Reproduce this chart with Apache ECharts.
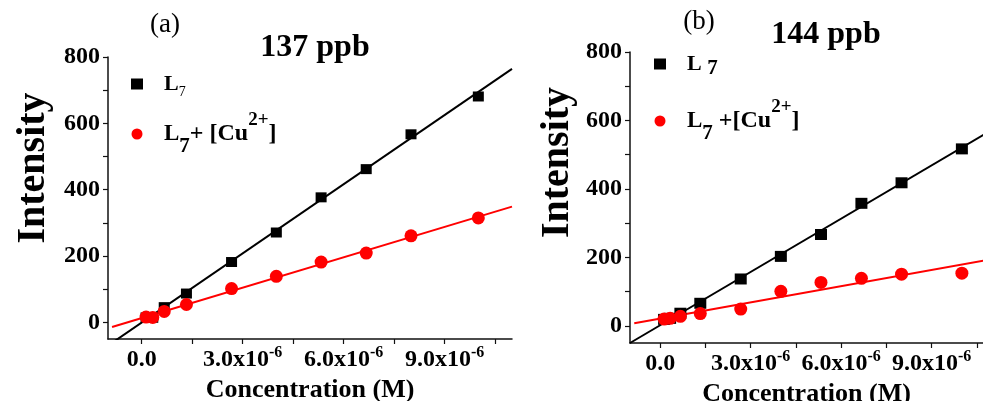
<!DOCTYPE html>
<html>
<head>
<meta charset="utf-8">
<script src="https://cdn.jsdelivr.net/npm/echarts@6/dist/echarts.min.js"></script>
<style>
html, body { margin: 0; padding: 0; background: #fff; }
#chart { width: 983px; height: 401px; }
</style>
</head>
<body>
<div id="chart"></div>
<script>
// concentration (M)
var concA = [0.13e-6, 0.33e-6, 0.67e-6, 1.33e-6, 2.67e-6, 4.0e-6, 5.33e-6, 6.67e-6, 8.0e-6, 10.0e-6];
var concB = [0.13e-6, 0.33e-6, 0.67e-6, 1.33e-6, 2.67e-6, 4.0e-6, 5.33e-6, 6.67e-6, 8.0e-6, 10.0e-6];
// intensity, panel (a) 137 ppb
var l7A   = [15, 14, 46, 87, 182, 271, 377, 462, 567, 681];
var l7CuA = [16, 15, 33, 54, 102, 139, 182, 209, 261, 315];
// intensity, panel (b) 144 ppb
var l7B   = [19, 22, 37, 66, 137, 203, 267, 358, 418, 517];
var l7CuB = [20, 22, 28, 36, 49, 101, 127, 139, 151, 154];
// fitted lines (end points)
var fitL7A   = [[-1.0e-6, -70], [11.0e-6, 764]];
var fitL7CuA = [[-0.88e-6, -14], [11.0e-6, 349]];
var fitL7B   = [[-1.0e-6, -50], [11.0e-6, 573]];
var fitL7CuB = [[-0.86e-6, 8], [11.0e-6, 195]];
// axis ticks / labels
var xTicks = [0, 1.5e-6, 3e-6, 4.5e-6, 6e-6, 7.5e-6, 9e-6, 10.5e-6];
var xLabelValues = [0, 3e-6, 6e-6, 9e-6];
var xLabelBase = ['0.0', '3.0x10', '6.0x10', '9.0x10'];
var xLabelExp = ['', '-6', '-6', '-6'];
var yTicks = [0, 100, 200, 300, 400, 500, 600, 700, 800];
var yLabels = [0, 200, 400, 600, 800];

var FONT = "'Liberation Serif', 'Times New Roman', serif";
var chart = echarts.init(document.getElementById('chart'));

function pairs(xs, ys) {
    var out = [];
    for (var i = 0; i < xs.length; i++) out.push([xs[i], ys[i]]);
    return out;
}

function xFormatter(v) {
    for (var i = 0; i < xLabelValues.length; i++) {
        if (Math.abs(v - xLabelValues[i]) < 1e-9) {
            if (!xLabelExp[i]) return '{m|' + xLabelBase[i] + '}';
            return '{m|' + xLabelBase[i] + '}{s|' + xLabelExp[i] + '}';
        }
    }
    return '';
}

function xAxisOf(idx, max, gap) {
    return {
        type: 'value', gridIndex: idx, min: -1e-6, max: max,
        name: 'Concentration (M)', nameLocation: 'middle', nameGap: gap,
        nameTextStyle: { fontFamily: FONT, fontWeight: 'bold', fontSize: 26, color: '#000' },
        axisLine: { onZero: false, lineStyle: { color: '#111', width: 1.5 } },
        axisTick: { show: true, length: 5, inside: false, customValues: xTicks, lineStyle: { color: '#111', width: 1.2 } },
        axisLabel: {
            customValues: xLabelValues, margin: 6, formatter: xFormatter,
            rich: {
                m: { fontFamily: FONT, fontWeight: 'bold', fontSize: 24, color: '#000', lineHeight: 30 },
                s: { fontFamily: FONT, fontWeight: 'bold', fontSize: 16, color: '#000', lineHeight: 14, verticalAlign: 'top' }
            }
        },
        splitLine: { show: false }
    };
}

function yAxisOf(idx, gap, shift) {
    return {
        type: 'value', gridIndex: idx, min: -50, max: 800,
        name: 'Intensity', nameLocation: 'middle', nameGap: gap,
        nameTextStyle: { fontFamily: FONT, fontWeight: 'bold', fontSize: 40, color: '#000', padding: [0, 0, 0, shift * 2] },
        axisLine: { onZero: false, lineStyle: { color: '#111', width: 1.5 } },
        axisTick: { show: true, length: 5, inside: false, customValues: yTicks, lineStyle: { color: '#111', width: 1.2 } },
        axisLabel: { customValues: yLabels, margin: 8, fontFamily: FONT, fontWeight: 'bold', fontSize: 24, color: '#000' },
        splitLine: { show: false }
    };
}

function scatter(name, idx, data, shape, size, color) {
    return {
        name: name, type: 'scatter', xAxisIndex: idx, yAxisIndex: idx,
        symbol: shape, symbolSize: size, itemStyle: { color: color, opacity: 1 }, z: 3, data: data
    };
}

function fit(idx, data, color) {
    return {
        type: 'line', xAxisIndex: idx, yAxisIndex: idx, data: data, showSymbol: false, symbol: 'none',
        silent: true, clip: true, z: 2, lineStyle: { color: color, width: 2 }
    };
}

var legendRich = {
    L: { fontFamily: FONT, fontWeight: 'bold', fontSize: 22, color: '#000', lineHeight: 30, padding: [0, 0, 0, 16] },
    Lb: { fontFamily: FONT, fontWeight: 'bold', fontSize: 23, color: '#000', lineHeight: 46, padding: [0, 0, 0, 16] },
    t: { fontFamily: FONT, fontWeight: 'bold', fontSize: 24, color: '#000' },
    sub: { fontFamily: FONT, fontSize: 14, color: '#000', lineHeight: 14, verticalAlign: 'bottom' },
    subb: { fontFamily: FONT, fontWeight: 'bold', fontSize: 21, color: '#000', lineHeight: 16, verticalAlign: 'bottom' },
    sup: { fontFamily: FONT, fontWeight: 'bold', fontSize: 19, color: '#000', lineHeight: 14, verticalAlign: 'top' }
};

var legendText = {
    'L7': '{L|L}{sub|7}',
    'L7+ [Cu2+]': '{Lb|L}{subb|7}{t|+ [Cu}{sup|2+}{t|]}',
    'L 7': '{L|L }{subb|7}',
    'L7 +[Cu2+]': '{Lb|L}{subb|7}{t| +[Cu}{sup|2+}{t|]}'
};

var option = {
    backgroundColor: '#fff',
    animation: false,
    title: [
        { text: '(a)', left: 165, top: 11, textAlign: 'center', padding: 0,
          textStyle: { fontFamily: FONT, fontWeight: 'normal', fontSize: 27, color: '#000' } },
        { text: '137 ppb', left: 315, top: 32, textAlign: 'center', padding: 0,
          textStyle: { fontFamily: FONT, fontWeight: 'bold', fontSize: 32, color: '#000' } },
        { text: '(b)', left: 699, top: 8, textAlign: 'center', padding: 0,
          textStyle: { fontFamily: FONT, fontWeight: 'normal', fontSize: 27, color: '#000' } },
        { text: '144 ppb', left: 826, top: 19, textAlign: 'center', padding: 0,
          textStyle: { fontFamily: FONT, fontWeight: 'bold', fontSize: 32, color: '#000' } }
    ],
    legend: [
        { data: ['L7', 'L7+ [Cu2+]'], orient: 'vertical', left: 131, top: 73, itemGap: 12,
          itemWidth: 12, itemHeight: 11, padding: 0,
          formatter: function (n) { return legendText[n]; }, textStyle: { rich: legendRich } },
        { data: ['L 7', 'L7 +[Cu2+]'], orient: 'vertical', left: 654, top: 53, itemGap: 19,
          itemWidth: 12, itemHeight: 11, padding: 0,
          formatter: function (n) { return legendText[n]; }, textStyle: { rich: legendRich } }
    ],
    grid: [
        { left: 108, right: 471, top: 57, bottom: 62, containLabel: false, outerBoundsMode: 'none' },
        { left: 630, right: 0, top: 52, bottom: 58, containLabel: false, outerBoundsMode: 'none' }
    ],
    xAxis: [xAxisOf(0, 11e-6, 30), xAxisOf(1, 10.7e-6, 28)],
    yAxis: [yAxisOf(0, 54, 30), yAxisOf(1, 52, 35)],
    series: [
        fit(0, fitL7A, '#000'),
        fit(0, fitL7CuA, '#ff0000'),
        scatter('L7', 0, pairs(concA, l7A), 'rect', [11, 10], '#000'),
        scatter('L7+ [Cu2+]', 0, pairs(concA, l7CuA), 'circle', 13, '#ff0000'),
        fit(1, fitL7B, '#000'),
        fit(1, fitL7CuB, '#ff0000'),
        scatter('L 7', 1, pairs(concB, l7B), 'rect', [12, 11], '#000'),
        scatter('L7 +[Cu2+]', 1, pairs(concB, l7CuB), 'circle', 13, '#ff0000')
    ]
};

chart.setOption(option);
</script>
</body>
</html>
